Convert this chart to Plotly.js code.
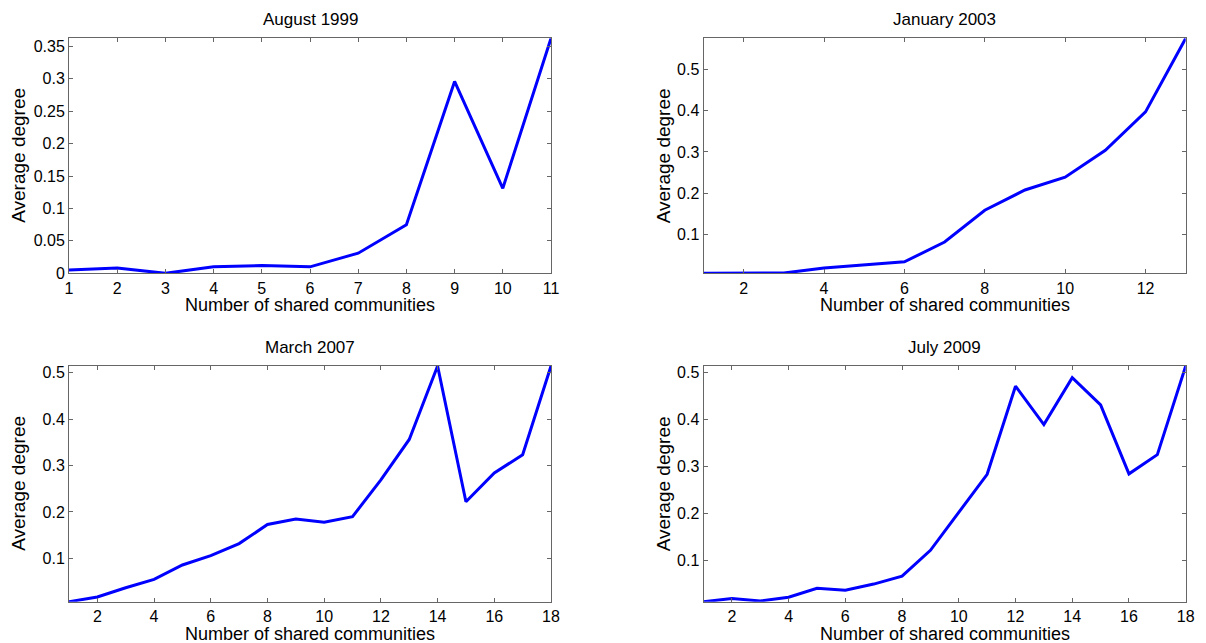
<!DOCTYPE html>
<html>
<head>
<meta charset="utf-8">
<script src="https://cdn.plot.ly/plotly-3.0.1.min.js"></script>
<style>html,body{margin:0;padding:0;background:#fff;}#chart{width:1206px;height:643px;}</style>
</head>
<body>
<div id="chart"></div>
<script>
// ---- data ----
const titles = ["August 1999", "January 2003", "March 2007", "July 2009"];
const xLabel = "Number of shared communities";
const yLabel = "Average degree";

const x1999 = [1, 2, 3, 4, 5, 6, 7, 8, 9, 10, 11];
const y1999 = [0.005, 0.008, 0.0, 0.010, 0.012, 0.010, 0.031, 0.075, 0.296, 0.131, 0.3625];

const x2003 = [1, 2, 3, 4, 5, 6, 7, 8, 9, 10, 11, 12, 13];
const y2003 = [0.0063, 0.007, 0.007, 0.019, 0.027, 0.034, 0.082, 0.159, 0.208, 0.239, 0.304, 0.397, 0.575];

const x2007 = [1, 2, 3, 4, 5, 6, 7, 8, 9, 10, 11, 12, 13, 14, 15, 16, 17, 18];
const y2007 = [0.007, 0.017, 0.037, 0.055, 0.086, 0.106, 0.132, 0.173, 0.185, 0.178, 0.190, 0.269, 0.356, 0.514, 0.222, 0.284, 0.323, 0.514];

const x2009 = [1, 2, 3, 4, 5, 6, 7, 8, 9, 10, 11, 12, 13, 14, 15, 16, 17, 18];
const y2009 = [0.0114, 0.018, 0.013, 0.021, 0.040, 0.036, 0.049, 0.066, 0.121, 0.202, 0.283, 0.471, 0.389, 0.489, 0.431, 0.284, 0.325, 0.514];

const xs = [x1999, x2003, x2007, x2009];
const ys = [y1999, y2003, y2007, y2009];
const xDticks = [1, 2, 2, 2];
const yDticks = [0.05, 0.1, 0.1, 0.1];

// ---- layout geometry (paper fractions) ----
const W = 1206, H = 643;
const colDom = [[69 / W, 551 / W], [703.5 / W, 1185.7 / W]];
const rowDom = [[1 - 273.3 / H, 1 - 38.3 / H], [1 - 601.7 / H, 1 - 366 / H]];
const yTitleOffset = [50, 40];
const FONT = "Liberation Sans, Arial, Helvetica, sans-serif";

const traces = [];
const layout = {
  width: W, height: H,
  margin: {l: 0, r: 0, t: 0, b: 0},
  paper_bgcolor: "#ffffff",
  plot_bgcolor: "#ffffff",
  showlegend: false,
  font: {family: FONT, color: "#000", size: 16},
  annotations: []
};

for (let i = 0; i < 4; i++) {
  const row = Math.floor(i / 2), col = i % 2;
  const sfx = i === 0 ? "" : String(i + 1);
  const xa = "xaxis" + sfx, ya = "yaxis" + sfx;
  traces.push({
    x: xs[i], y: ys[i], type: "scatter", mode: "lines",
    xaxis: "x" + sfx, yaxis: "y" + sfx,
    line: {color: "#0000ff", width: 3},
    hoverinfo: "x+y"
  });
  const yMin = Math.min(...ys[i]), yMax = Math.max(...ys[i]);
  const common = {
    showgrid: false, zeroline: false,
    showline: true, linecolor: "#666666", linewidth: 1, mirror: "ticks",
    ticks: "inside", ticklen: 4, tickcolor: "#666666", tickwidth: 1,
    tickfont: {family: FONT, size: 16, color: "#000"},
    fixedrange: true
  };
  layout[xa] = Object.assign({}, common, {
    domain: colDom[col], anchor: "y" + sfx,
    range: [xs[i][0], xs[i][xs[i].length - 1]],
    tick0: 0, dtick: xDticks[i]
  });
  layout[ya] = Object.assign({}, common, {
    domain: rowDom[row], anchor: "x" + sfx,
    range: [yMin, yMax],
    tick0: 0, dtick: yDticks[i]
  });
  const cx = (colDom[col][0] + colDom[col][1]) / 2;
  const top = rowDom[row][1], bot = rowDom[row][0];
  // subplot title
  layout.annotations.push({
    text: titles[i], xref: "paper", yref: "paper",
    x: cx, y: top + 19 / H, xanchor: "center", yanchor: "middle",
    showarrow: false, font: {family: FONT, size: 17, color: "#000"}
  });
  // x axis title
  layout.annotations.push({
    text: xLabel, xref: "paper", yref: "paper",
    x: cx, y: bot - 32 / H, xanchor: "center", yanchor: "middle",
    showarrow: false, font: {family: FONT, size: 18, color: "#000"}
  });
  // y axis title
  layout.annotations.push({
    text: yLabel, xref: "paper", yref: "paper",
    x: colDom[col][0] - yTitleOffset[col] / W, y: (top + bot) / 2, xanchor: "center", yanchor: "middle",
    textangle: -90,
    showarrow: false, font: {family: FONT, size: 19, color: "#000"}
  });
}

Plotly.newPlot("chart", traces, layout, {displayModeBar: false, staticPlot: false});
</script>
</body>
</html>
